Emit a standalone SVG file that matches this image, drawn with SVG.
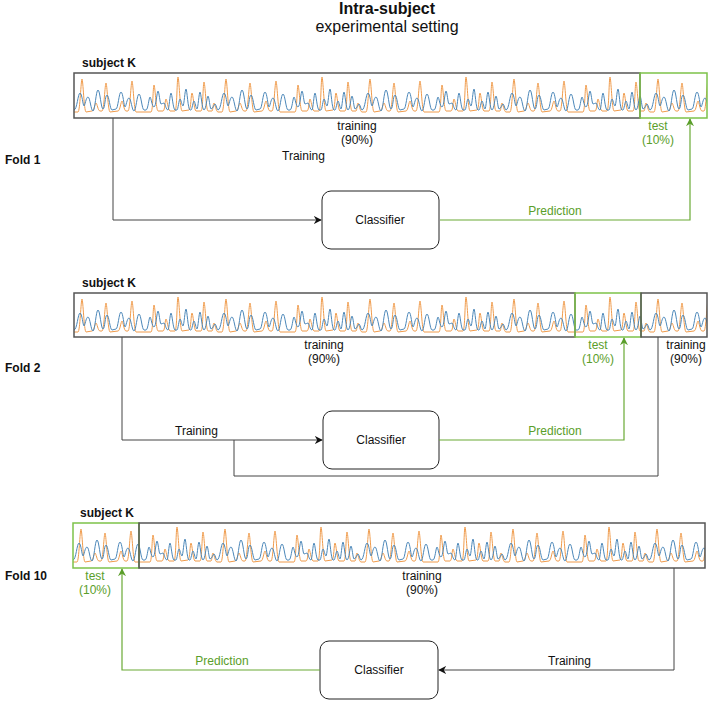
<svg xmlns="http://www.w3.org/2000/svg" width="708" height="701" viewBox="0 0 708 701">
<style>
text{font-family:"Liberation Sans",Arial,sans-serif;font-size:12px;fill:#111}
.b{font-weight:bold}
.g{fill:#5a9e2a}
.c{text-anchor:middle}
.box{fill:none;stroke:#555;stroke-width:1.5}
.gbox{fill:none;stroke:#7dc24a;stroke-width:1.5}
.ln{fill:none;stroke:#444;stroke-width:1}
.gln{fill:none;stroke:#6aaa35;stroke-width:1.2}
.cls{fill:#fff;stroke:#222;stroke-width:1}
.sb{fill:none;stroke:#4a86b8;stroke-width:1}
.so{fill:none;stroke:#ef9a4a;stroke-width:1}
</style>
<defs>
<pattern id="sig" patternUnits="userSpaceOnUse" x="0" y="0" width="144" height="45">
<path class="so" d="M0,39 L4,39 C6,39 7,6 8,6 C9,6 10,38 12,39 L18,38 C20,38 21,30 22,30 C23,30 24,38 26,38 L28,38 C30,38 31,10 32,10 C33,10 34,38 36,39 L44,38 C46,38 47,28 48,28 C49,28 50,38 52,38 L54,38 C56,38 57,8 58,8 C59,8 60,38 62,39 L77,39 C79,39 79,12 80,12 C81,12 82,37 84,38 L89,38 C91,38 91,26 92,26 C93,26 94,37 96,38 L101,38 C103,38 103,4 104,4 C105,4 106,37 108,38 L115,37 C117,37 117,20 118,20 C119,20 120,37 122,38 L127,38 C129,38 129,9 130,9 C131,9 132,37 134,38 L138,38 C139,38 139,30 140,30 C141,30 142,39 144,39"/>
<path class="sb" d="M0,37 C3,37 4,20 6,20 C8,20 9,33 10,33 C11,33 12,24 14,24 C16,24 17,38 19,38 C21,38 22,17 24,17 C26,17 27,36 29,36 C31,36 31,22 33,22 C35,22 36,37 38,37 L42,36 C44,36 45,19 47,19 C49,19 50,34 51,34 C52,34 53,25 55,25 C57,25 58,38 60,38 C62,38 63,21 65,21 C67,21 68,37 70,37 L72,37 C74,37 75,24 76,24 C77,24 78,34 80,34 C82,34 83,18 84,18 C85,18 86,31 87,31 C88,31 89,30 90,30 C91,30 92,37 94,37 C95,37 96,20 97,20 C98,20 99,36 101,37 L103,37 C104,37 105,26 106,26 C107,26 108,33 109,33 C110,33 111,16 112,16 C113,16 114,37 116,37 L117,37 C118,37 119,28 120,28 C121,28 122,36 123,36 C124,36 125,19 126,19 C127,19 128,37 130,37 C132,37 133,23 134,23 C135,23 136,36 137,36 C139,36 140,31 141,31 C142,31 143,37 144,37"/>
</pattern>
<marker id="ak" viewBox="0 0 10 10" refX="9" refY="5" markerWidth="8" markerHeight="8" orient="auto" markerUnits="userSpaceOnUse"><path d="M0,0 L10,5 L0,10 L3,5 Z" fill="#111"/></marker>
<marker id="ag" viewBox="0 0 10 10" refX="9" refY="5" markerWidth="8" markerHeight="8" orient="auto" markerUnits="userSpaceOnUse"><path d="M0,0 L10,5 L0,10 L3,5 Z" fill="#5a9e2a"/></marker>
</defs>

<g id="title">
<text class="b c" x="387" y="14" style="font-size:16px">Intra-subject</text>
<text class="c" x="387" y="32" style="font-size:16px">experimental setting</text>
</g>

<!-- Fold 1 -->
<g id="fold1-signal">
<text class="b" x="82" y="67">subject K</text>
<g transform="translate(74,73)"><rect x="0" y="0" width="633" height="45" fill="url(#sig)"/></g>
<rect class="box" x="74" y="73" width="566" height="45"/>
<rect class="gbox" x="640" y="73" width="67" height="45"/>
<text class="c" x="357" y="130">training</text>
<text class="c" x="357" y="144">(90%)</text>
<text class="c g" x="658" y="130">test</text>
<text class="c g" x="658" y="144">(10%)</text>
</g>
<g id="fold1-label"><text class="b" x="5" y="164">Fold 1</text></g>
<g id="fold1-classifier">
<rect class="cls" x="322" y="191" width="117" height="58" rx="9"/>
<text class="c" x="380" y="224">Classifier</text>
</g>

<!-- Fold 2 -->
<g id="fold2-signal">
<text class="b" x="82" y="287">subject K</text>
<g transform="translate(74,293)"><rect x="0" y="0" width="633" height="44" fill="url(#sig)"/></g>
<rect class="box" x="74" y="293" width="501" height="44"/>
<rect class="gbox" x="575" y="293" width="66" height="44"/>
<rect class="box" x="641" y="293" width="66" height="44"/>
<text class="c" x="324" y="349">training</text>
<text class="c" x="324" y="363">(90%)</text>
<text class="c g" x="598" y="349">test</text>
<text class="c g" x="598" y="363">(10%)</text>
<text class="c" x="686" y="349">training</text>
<text class="c" x="686" y="363">(90%)</text>
</g>
<g id="fold2-label"><text class="b" x="5" y="372">Fold 2</text></g>
<g id="fold2-classifier">
<rect class="cls" x="323" y="411" width="116" height="58" rx="9"/>
<text class="c" x="381" y="444">Classifier</text>
</g>

<!-- Fold 10 -->
<g id="fold10-signal">
<text class="b" x="80" y="517">subject K</text>
<g transform="translate(73,523)"><rect x="0" y="0" width="632" height="45" fill="url(#sig)"/></g>
<rect class="gbox" x="73" y="523" width="66" height="45"/>
<rect class="box" x="139" y="523" width="566" height="45"/>
<text class="c g" x="95" y="580">test</text>
<text class="c g" x="95" y="594">(10%)</text>
<text class="c" x="422" y="580">training</text>
<text class="c" x="422" y="594">(90%)</text>
</g>
<g id="fold10-label"><text class="b" x="5" y="580">Fold 10</text></g>
<g id="fold10-classifier">
<rect class="cls" x="320" y="641" width="118" height="58" rx="9"/>
<text class="c" x="379" y="674">Classifier</text>
</g>

<g id="connectors">
<path class="ln" d="M113,118 V220 H321" marker-end="url(#ak)"/>
<path class="gln" d="M440,220 H690 V119" marker-end="url(#ag)"/>
<path class="ln" d="M122,337 V440 H322" marker-end="url(#ak)"/>
<path class="ln" d="M658,337 V476 H234 V440"/>
<path class="gln" d="M439,440 H624 V338" marker-end="url(#ag)"/>
<path class="ln" d="M674,568 V670 H439" marker-end="url(#ak)"/>
<path class="gln" d="M320,670 H122 V569" marker-end="url(#ag)"/>
</g>
<g id="connector-labels">
<text x="282" y="160">Training</text>
<text class="g c" x="555" y="215">Prediction</text>
<text x="175" y="435">Training</text>
<text class="g c" x="555" y="435">Prediction</text>
<text x="548" y="665">Training</text>
<text class="g c" x="222" y="665">Prediction</text>
</g>
</svg>
